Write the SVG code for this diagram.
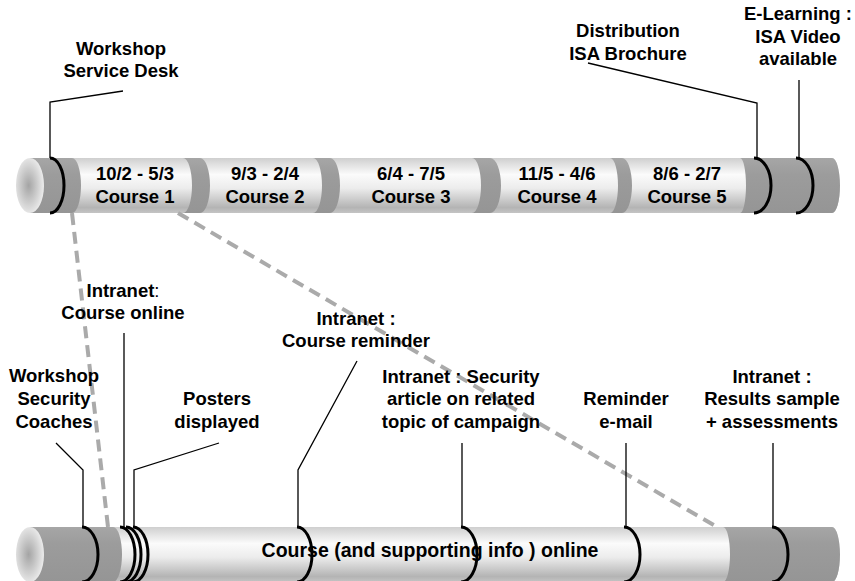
<svg xmlns="http://www.w3.org/2000/svg" width="855" height="581" viewBox="0 0 855 581">
  <style>
    .lbl { font-family: "Liberation Sans", Arial, sans-serif; font-weight: bold; font-size: 18.5px; text-anchor: middle; fill: #000; }
    .big { font-size: 19.5px; }
    .ring { fill: none; stroke: #000; stroke-width: 3; }
    .lead { fill: none; stroke: #000; stroke-width: 1.3; }
    .dash { fill: none; stroke: #aaa; stroke-width: 4; stroke-dasharray: 12 7; }
    .light { fill: url(#lightTube); }
    .dark { fill: url(#darkTube); }
    .cap { fill: url(#capFace); }
  </style>
  <defs>
    <linearGradient id="lightTube" x1="0" y1="0" x2="0" y2="1">
      <stop offset="0" stop-color="#cfcfcf"/>
      <stop offset="0.3" stop-color="#fbfbfb"/>
      <stop offset="0.55" stop-color="#ececec"/>
      <stop offset="0.9" stop-color="#b4b4b4"/>
      <stop offset="1" stop-color="#c4c4c4"/>
    </linearGradient>
    <linearGradient id="darkTube" x1="0" y1="0" x2="0" y2="1">
      <stop offset="0" stop-color="#a6a6a6"/>
      <stop offset="0.3" stop-color="#9c9c9c"/>
      <stop offset="1" stop-color="#959595"/>
    </linearGradient>
    <radialGradient id="capFace" cx="0.45" cy="0.5" r="0.55">
      <stop offset="0" stop-color="#a4a4a4"/>
      <stop offset="1" stop-color="#ececec"/>
    </radialGradient>
  </defs>

  <!-- upper tube: course schedule -->
  <g id="course-tube">
    <path class="light" d="M30,158 H832 A8,27.5 0 0 1 832,213 H30 Z"/>
    <path class="dark" d="M30,158 H72 A9,27.5 0 0 1 72,213 H30 Z"/>
    <path class="dark" d="M183,158 A9,27.5 0 0 1 183,213 H200 A10,27.5 0 0 0 200,158 Z"/>
    <path class="dark" d="M313,158 A9,27.5 0 0 1 313,213 H330 A10,27.5 0 0 0 330,158 Z"/>
    <path class="dark" d="M472,158 A9,27.5 0 0 1 472,213 H490 A11,27.5 0 0 0 490,158 Z"/>
    <path class="dark" d="M610,158 A8,27.5 0 0 1 610,213 H622 A10,27.5 0 0 0 622,158 Z"/>
    <path class="dark" d="M740,158 A6,27.5 0 0 1 740,213 H832 A8,27.5 0 0 0 832,158 Z"/>
    <ellipse class="cap" cx="30" cy="185.5" rx="14" ry="27.5"/>
    <path class="ring" d="M50,158 A14,27.5 0 0 1 50,213"/>
    <path class="ring" d="M754,158 A17,27.5 0 0 1 754,213"/>
    <path class="ring" d="M796,158 A17,27.5 0 0 1 796,213"/>
  </g>

  <g id="course-1" class="lbl"><text x="135" y="180">10/2 - 5/3</text><text x="135" y="203">Course 1</text></g>
  <g id="course-2" class="lbl"><text x="265" y="180">9/3 - 2/4</text><text x="265" y="203">Course 2</text></g>
  <g id="course-3" class="lbl"><text x="411" y="180">6/4 - 7/5</text><text x="411" y="203">Course 3</text></g>
  <g id="course-4" class="lbl"><text x="557" y="180">11/5 - 4/6</text><text x="557" y="203">Course 4</text></g>
  <g id="course-5" class="lbl"><text x="687" y="180">8/6 - 2/7</text><text x="687" y="203">Course 5</text></g>

  <!-- lower tube: online material -->
  <g id="online-tube">
    <path class="light" d="M30,527 H832 A8,27.5 0 0 1 832,582 H30 Z"/>
    <path class="dark" d="M30,527 H113 A9,27.5 0 0 1 113,582 H30 Z"/>
    <path class="dark" d="M723,527 A7,27.5 0 0 1 723,582 H832 A8,27.5 0 0 0 832,527 Z"/>
    <ellipse class="cap" cx="30" cy="554.5" rx="14" ry="27.5"/>
    <path class="ring" d="M82,527 A16,27.5 0 0 1 82,582"/>
    <path class="ring" d="M120,527 A15,27.5 0 0 1 120,582"/>
    <path class="ring" d="M126,527 A15,27.5 0 0 1 126,582"/>
    <path class="ring" d="M133,527 A15,27.5 0 0 1 133,582"/>
    <path class="ring" d="M297,527 A15,27.5 0 0 1 297,582"/>
    <path class="ring" d="M461,527 A16,27.5 0 0 1 461,582"/>
    <path class="ring" d="M624,527 A16,27.5 0 0 1 624,582"/>
    <path class="ring" d="M772,527 A16,27.5 0 0 1 772,582"/>
    <text class="lbl big" x="430" y="557">Course (and supporting info ) online</text>
  </g>

  <!-- leader lines and the dashed links between the tubes -->
  <g id="connectors">
    <path class="dash" d="M72,213 L108,527"/>
    <path class="dash" d="M178,213 L717,527"/>
    <path class="lead" d="M123,91 L50,102 V158"/>
    <path class="lead" d="M588,63 L757,103 V158"/>
    <path class="lead" d="M799,80 V158"/>
    <path class="lead" d="M56,443 L83,470 V527"/>
    <path class="lead" d="M124,333 V527"/>
    <path class="lead" d="M219,443 L134,470 V527"/>
    <path class="lead" d="M357,361 L298,470 V527"/>
    <path class="lead" d="M462,443 V527"/>
    <path class="lead" d="M626,443 V527"/>
    <path class="lead" d="M773,443 V527"/>
  </g>

  <g id="workshop-service-desk" class="lbl"><text x="121" y="55">Workshop</text><text x="121" y="77">Service Desk</text></g>
  <g id="isa-brochure" class="lbl"><text x="628" y="37">Distribution</text><text x="628" y="60">ISA Brochure</text></g>
  <g id="isa-video" class="lbl"><text x="798" y="20">E-Learning :</text><text x="798" y="43">ISA Video</text><text x="798" y="65">available</text></g>

  <g id="workshop-coaches" class="lbl"><text x="54" y="382">Workshop</text><text x="54" y="405">Security</text><text x="54" y="428">Coaches</text></g>
  <g id="course-online" class="lbl"><text x="123" y="297">Intranet<tspan font-weight="normal">:</tspan></text><text x="123" y="319">Course online</text></g>
  <g id="posters" class="lbl"><text x="217" y="405">Posters</text><text x="217" y="428">displayed</text></g>
  <g id="course-reminder" class="lbl"><text x="356" y="325">Intranet :</text><text x="356" y="347">Course reminder</text></g>
  <g id="security-article" class="lbl"><text x="461" y="383">Intranet : Security</text><text x="461" y="405">article on related</text><text x="461" y="428">topic of campaign</text></g>
  <g id="reminder-email" class="lbl"><text x="626" y="405">Reminder</text><text x="626" y="428">e-mail</text></g>
  <g id="results" class="lbl"><text x="772" y="383">Intranet :</text><text x="772" y="405">Results sample</text><text x="772" y="428">+ assessments</text></g>
</svg>
